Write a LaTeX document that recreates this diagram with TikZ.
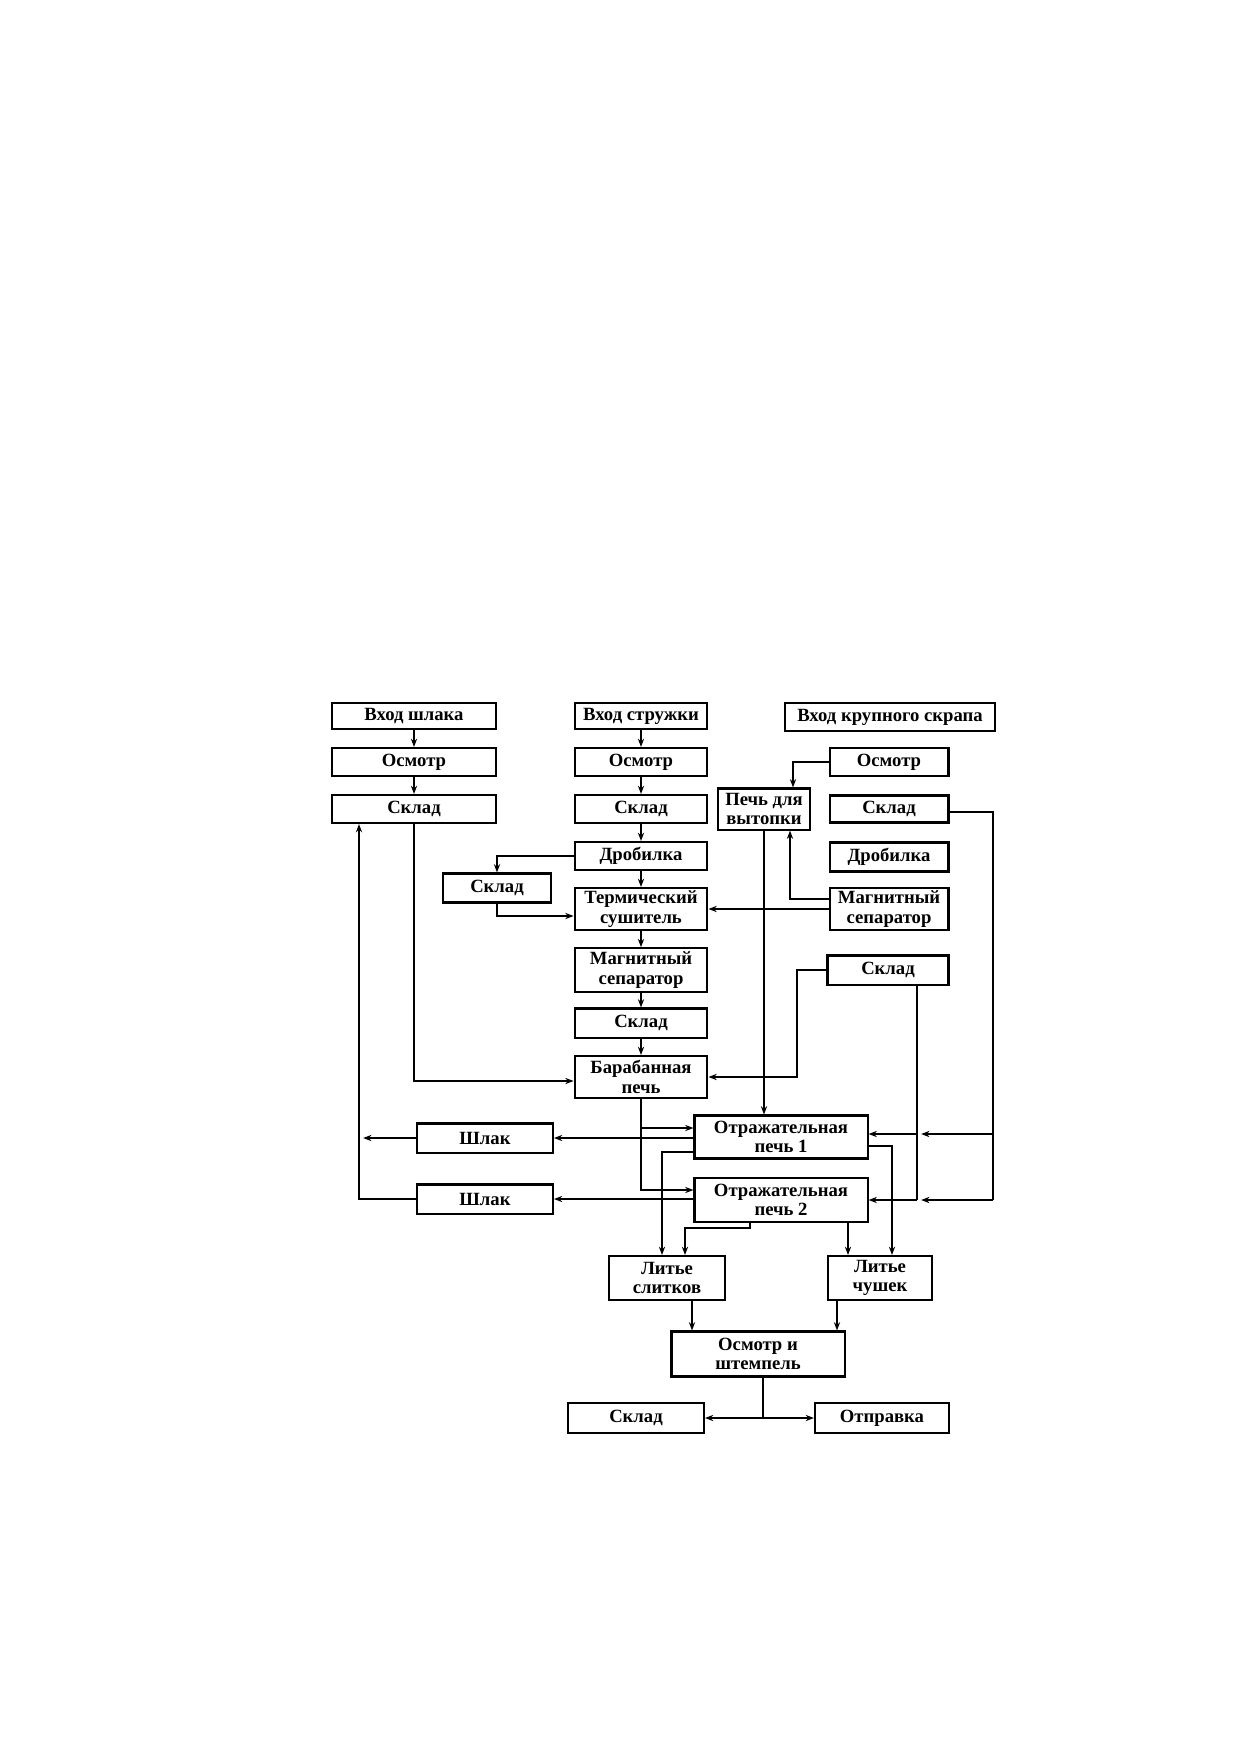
\documentclass[tikz,border=0pt]{standalone}
\usepackage{fontspec}
\setmainfont{Liberation Serif}
\usetikzlibrary{arrows.meta}
\tikzset{blk/.style={draw,line width=1pt,inner sep=0pt,align=center,font=\bfseries\fontsize{9}{9.5}\selectfont}}
\tikzset{flow/.style={draw,line width=0.8pt,-{Stealth[length=4pt,width=3pt]}}}
\tikzset{line/.style={draw,line width=0.8pt}}

\begin{document}
\begin{tikzpicture}[x=0.016935cm,y=-0.016935cm]
    \useasboundingbox (0,0) rectangle (1240,1754);

    % slag column
    \node[blk,minimum width=79pt,minimum height=12.5pt] (vsh) at (414,716) {Вход шлака};
    \node[blk,minimum width=79pt,minimum height=13.5pt] (osl) at (414,762) {Осмотр};
    \node[blk,minimum width=79pt,minimum height=13.5pt] (skl) at (414,809) {Склад};

    % chips column
    \node[blk,minimum width=64pt,minimum height=12.5pt] (vst) at (641,716) {Вход стружки};
    \node[blk,minimum width=64pt,minimum height=13.5pt] (osm) at (641,762) {Осмотр};
    \node[blk,minimum width=64pt,minimum height=13.5pt] (skm) at (641,809) {Склад};
    \node[blk,minimum width=64pt,minimum height=13.5pt] (drm) at (641,856) {Дробилка};
    \node[blk,minimum width=64pt,minimum height=20.2pt] (tsu) at (641,909) {Термический\\сушитель};
    \node[blk,minimum width=64pt,minimum height=21pt] (msm) at (641,970) {Магнитный\\сепаратор};
    \node[blk,minimum width=64pt,minimum height=14pt] (skm2) at (641,1023) {Склад};
    \node[blk,minimum width=64pt,minimum height=20.2pt] (bar) at (641,1077) {Барабанная\\печь};
    \node[blk,minimum width=52pt,minimum height=14pt] (sks) at (497,888) {Склад};

    % scrap column
    \node[blk,minimum width=101pt,minimum height=13.5pt] (vkr) at (890,717) {Вход крупного скрапа};
    \node[blk,minimum width=57.3pt,minimum height=13.5pt] (osr) at (889,762) {Осмотр};
    \node[blk,minimum width=44.3pt,minimum height=19.8pt] (pvy) at (764,809) {Печь для\\вытопки};
    \node[blk,minimum width=57.3pt,minimum height=13pt] (skr) at (889,809) {Склад};
    \node[blk,minimum width=57.3pt,minimum height=14pt] (drr) at (889,857) {Дробилка};
    \node[blk,minimum width=57.3pt,minimum height=20.2pt] (msr) at (889,909) {Магнитный\\сепаратор};
    \node[blk,minimum width=58.3pt,minimum height=14pt] (skr2) at (888,970) {Склад};

    % furnaces and casting
    \node[blk,minimum width=83.4pt,minimum height=20.7pt] (otr1) at (781,1137) {Отражательная\\печь 1};
    \node[blk,minimum width=83.4pt,minimum height=21.2pt] (otr2) at (781,1200) {Отражательная\\печь 2};
    \node[blk,minimum width=65.5pt,minimum height=14pt] (shl1) at (485,1138) {Шлак};
    \node[blk,minimum width=65.5pt,minimum height=14pt] (shl2) at (485,1199) {Шлак};
    \node[blk,minimum width=55.9pt,minimum height=21.2pt] (lsl) at (667,1278) {Литье\\слитков};
    \node[blk,minimum width=50.1pt,minimum height=21.2pt] (lch) at (880,1278) {Литье\\чушек};
    \node[blk,minimum width=83.4pt,minimum height=21.7pt] (ois) at (758,1354) {Осмотр и\\штемпель};
    \node[blk,minimum width=65.5pt,minimum height=14.5pt] (skb) at (636,1418) {Склад};
    \node[blk,minimum width=64.6pt,minimum height=14.5pt] (otp) at (882,1418) {Отправка};

    \coordinate (sa) at (797,1077);
    \coordinate (qa) at (917,1134);
    \coordinate (qb) at (917,1200);
    \coordinate (ra) at (993,1134);
    \coordinate (rb) at (993,1200);
    \coordinate (la) at (359,1199);
    \coordinate (lb) at (685,1228);
    \coordinate (ob) at (763,1418);

    \draw[flow] (vsh) -- (osl);
    \draw[flow] (osl) -- (skl);
    \draw[flow] (vst) -- (osm);
    \draw[flow] (osm) -- (skm);
    \draw[flow] (skm) -- (drm);
    \draw[flow] (drm) -- (tsu);
    \draw[flow] (tsu) -- (msm);
    \draw[flow] (msm) -- (skm2);
    \draw[flow] (skm2) -- (bar);
    \draw[flow] (drm.west) -| (sks.north);
    \draw[flow] (sks.south) |- (tsu.west |- 0,916);
    \draw[flow] (skl.south) |- (bar.west |- 0,1081);

    \draw[flow] (osr.west) -| (pvy.north -| 793,0);
    \draw[flow] (msr.west |- 0,899) -| (pvy.south -| 790,0);
    \draw[flow] (msr.west) -- (tsu.east);
    \draw[flow] (pvy.south) -- (otr1.north -| pvy.south);
    \draw[flow] (skr2.west) -| (sa) -- (sa -| bar.east);
    \draw[line] (skr.east |- 0,812) -| (rb);
    \draw[flow,shorten >=2pt] (ra) -- (qa);
    \draw[flow,shorten >=2pt] (rb) -- (qb);
    \draw[line] (qa |- skr2.south) -- (qb);
    \draw[flow] (qa) -- (qa -| otr1.east);
    \draw[flow] (qb) -- (qb -| otr2.east);

    \draw[flow] (bar.south) |- (otr2.west |- 0,1190);
    \draw[flow] (bar.south |- 0,1128) -- (otr1.west |- 0,1128);
    \draw[flow] (otr1.west |- 0,1138) -- (shl1.east |- 0,1138);
    \draw[flow] (otr2.west |- 0,1199) -- (shl2.east |- 0,1199);
    \draw[flow,shorten >=2pt] (shl1.west) -- (shl1.west -| la);
    \draw[flow] (shl2.west) -- (la) -- (la |- skl.south);

    \draw[flow] (otr1.west |- 0,1152) -| (lsl.north -| 662,0);
    \draw[flow] (otr2.south -| 750,0) |- (lb) -- (lb |- lsl.north);
    \draw[flow] (otr1.east |- 0,1146) -| (lch.north -| 892,0);
    \draw[flow] (otr2.south -| 848,0) -- (lch.north -| 848,0);
    \draw[flow] (lsl.south -| 692,0) -- (ois.north -| 692,0);
    \draw[flow] (lch.south -| 837,0) -- (ois.north -| 837,0);
    \draw[line] (ois.south -| ob) -- (ob);
    \draw[flow] (ob) -- (skb.east);
    \draw[flow] (ob) -- (otp.west);
\end{tikzpicture}
\end{document}
